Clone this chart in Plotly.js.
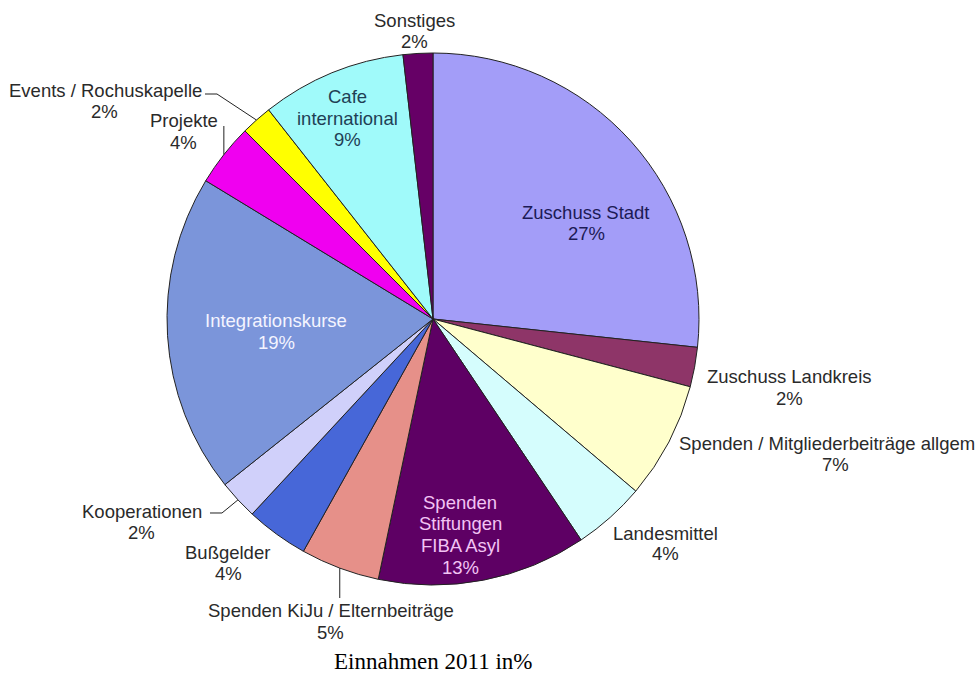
<!DOCTYPE html>
<html>
<head>
<meta charset="utf-8">
<script src="https://cdn.plot.ly/plotly-3.0.1.min.js"></script>
<style>html,body{margin:0;padding:0;background:#fff;}#chart{width:978px;height:679px;}</style>
</head>
<body>
<div id="chart"></div>
<script>
// ---- data ----
const categories = ["Zuschuss Stadt","Zuschuss Landkreis","Spenden / Mitgliederbeiträge allgemein","Landesmittel","Spenden Stiftungen FIBA Asyl","Spenden KiJu / Elternbeiträge","Bußgelder","Kooperationen","Integrationskurse","Projekte","Events / Rochuskapelle","Cafe international","Sonstiges"];
const displayLabels = ["Zuschuss Stadt","Zuschuss Landkreis","Spenden / Mitgliederbeiträge allgem","Landesmittel","Spenden<br>Stiftungen<br>FIBA Asyl","Spenden KiJu / Elternbeiträge","Bußgelder","Kooperationen","Integrationskurse","Projekte","Events / Rochuskapelle","Cafe<br>international","Sonstiges"];
const values = [26.7, 2.4, 7.1, 4.4, 12.7, 4.8, 3.8, 2.4, 19.4, 3.8, 1.9, 8.8, 1.8];

// ---- styles ----
const sliceColors = ["#a39df8","#8e3568","#ffffcc","#d5fdfd","#5e0064","#e69089","#4767d8","#d0d0fa","#7b95da","#f000f0","#ffff00","#a0fafa","#660066"];
const textColors = ["#1c1a55","#2a2a2a","#2a2a2a","#2a2a2a","#f2c4f4","#2a2a2a","#2a2a2a","#2a2a2a","#f4f4ff","#2a2a2a","#2a2a2a","#1f3f55","#2a2a2a"];

// label placement in page pixels: centre x and y of first line, line step, percent line position
const labelPlacement = [
  {x:586, y:212, px:586, py:233},
  {x:789, y:376, px:789, py:398},
  {x:677, y:443, px:835, py:464, anchor:"left"},
  {x:665, y:533, px:665, py:553},
  {x:460, y:502, px:460, py:567},
  {x:331, y:610, px:330, py:632},
  {x:227, y:552, px:228, py:573},
  {x:142, y:511, px:141, py:532},
  {x:276, y:320, px:276, py:342},
  {x:184, y:120, px:183, py:142},
  {x:105, y:91,  px:104, py:112},
  {x:347, y:97,  px:347, py:140},
  {x:414, y:20,  px:414, py:41}
];
const lineStep = 21.7;
// leader lines: points (page pixels) before the rim point of the slice
const leaders = {
  10: [[205,94],[217,94]],
  9:  [["rim",126]],
  7:  [[210,513],[222,513]],
  5:  [["rim",598]]
};

const W = 978, H = 679;
const cx = 433, cy = 319, R = 266;
const PX = x => x / W;
const PY = y => 1 - y / H;

const total = values.reduce((a, b) => a + b, 0);
const annotations = [];
const shapes = [];
const font = {family: "Liberation Sans, Arial, sans-serif", size: 18.5};

let cum = 0;
values.forEach((v, i) => {
  const midDeg = (cum + v / 2) / total * 360;
  cum += v;
  const pl = labelPlacement[i];
  const lines = displayLabels[i].split("<br>");
  lines.forEach((ln, k) => {
    annotations.push({
      text: ln, xref: "paper", yref: "paper",
      x: PX(pl.x), y: PY(pl.y + k * lineStep),
      xanchor: pl.anchor || "center", yanchor: "middle", showarrow: false,
      font: Object.assign({}, font, {color: textColors[i]})
    });
  });
  annotations.push({
    text: Math.round(v / total * 100) + "%", xref: "paper", yref: "paper",
    x: PX(pl.px), y: PY(pl.py), xanchor: "center", yanchor: "middle", showarrow: false,
    font: Object.assign({}, font, {color: textColors[i]})
  });
  if (leaders[i]) {
    const a = midDeg * Math.PI / 180;
    const rx = cx + R * Math.sin(a), ry = cy - R * Math.cos(a);
    const pts = leaders[i].map(p => [p[0] === "rim" ? rx : p[0], p[1]]).concat([[rx, ry]]);
    const path = pts.map((p, k) => (k ? "L" : "M") + PX(p[0]).toFixed(5) + "," + PY(p[1]).toFixed(5)).join(" ");
    shapes.push({type: "path", xref: "paper", yref: "paper", path: path, line: {color: "#222222", width: 1}});
  }
});

annotations.push({
  text: "Einnahmen 2011 in%", xref: "paper", yref: "paper",
  x: PX(433), y: PY(661), xanchor: "center", yanchor: "middle", showarrow: false,
  font: {family: "Liberation Serif, Times New Roman, serif", size: 23, color: "#000000"}
});

const trace = {
  type: "pie",
  labels: categories,
  values: values,
  textinfo: "none",
  sort: false,
  direction: "clockwise",
  rotation: 0,
  marker: {colors: sliceColors, line: {color: "#222222", width: 1}},
  domain: {x: [(cx - R) / W, (cx + R) / W], y: [1 - (cy + R) / H, 1 - (cy - R) / H]},
  hoverinfo: "none"
};

const layout = {
  width: W, height: H,
  margin: {l: 0, r: 0, t: 0, b: 0},
  paper_bgcolor: "#ffffff",
  showlegend: false,
  annotations: annotations,
  shapes: shapes
};

Plotly.newPlot("chart", [trace], layout, {displayModeBar: false, staticPlot: true});
</script>
</body>
</html>
